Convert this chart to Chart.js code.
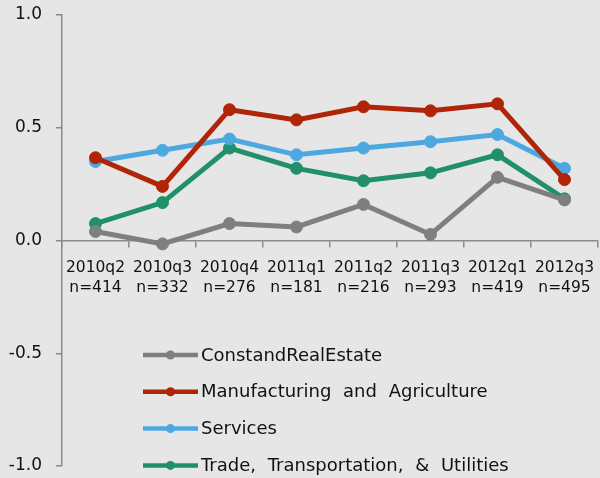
<!DOCTYPE html>
<html>
<head>
<meta charset="utf-8">
<script src="https://cdn.jsdelivr.net/npm/chart.js@4"></script>
<style>
  html, body { margin: 0; padding: 0; background: #e6e6e6; }
  #wrap { width: 600px; height: 478px; position: relative; }
</style>
</head>
<body>
<div id="wrap"><canvas id="chart"></canvas></div>
<script>
// quarters and sample sizes
const quarters = ['2010q2', '2010q3', '2010q4', '2011q1', '2011q2', '2011q3', '2012q1', '2012q3'];
const sampleSizes = ['n=414', 'n=332', 'n=276', 'n=181', 'n=216', 'n=293', 'n=419', 'n=495'];

const constRealEstate = [0.04, -0.015, 0.075, 0.06, 0.16, 0.027, 0.28, 0.18];
const manufacturing = [0.367, 0.24, 0.58, 0.535, 0.593, 0.575, 0.606, 0.27];
const services = [0.35, 0.40, 0.45, 0.38, 0.41, 0.438, 0.47, 0.32];
const tradeTransport = [0.075, 0.168, 0.41, 0.32, 0.265, 0.30, 0.38, 0.185];

const yTicks = [-1.0, -0.5, 0.0, 0.5, 1.0];

const labels = quarters.map((q, i) => [q, sampleSizes[i]]);

function series(label, data, color) {
    return {
        label: label,
        data: data,
        borderColor: color,
        backgroundColor: color,
        borderWidth: 5,
        pointRadius: 6,
        pointBorderWidth: 1,
        pointBackgroundColor: color,
        tension: 0
    };
}

// draws the stacked legend inside the plot area
const insideLegend = {
    id: 'insideLegend',
    afterDraw(chart) {
        const ctx = chart.ctx;
        const x0 = 143, x1 = 198, top = 355, step = 36.8;
        ctx.save();
        chart.data.datasets.forEach((ds, i) => {
            const y = top + i * step;
            ctx.strokeStyle = ds.borderColor;
            ctx.lineWidth = 4.5;
            ctx.beginPath();
            ctx.moveTo(x0, y);
            ctx.lineTo(x1, y);
            ctx.stroke();
            ctx.fillStyle = ds.borderColor;
            ctx.beginPath();
            ctx.arc((x0 + x1) / 2, y, 4.5, 0, Math.PI * 2);
            ctx.fill();
            ctx.fillStyle = '#111';
            ctx.font = '18px "DejaVu Sans"';
            ctx.wordSpacing = '6px';
            ctx.textBaseline = 'middle';
            ctx.fillText(ds.label, x1 + 3, y + 1);
        });
        ctx.restore();
    }
};

new Chart(document.getElementById('chart'), {
    type: 'line',
    data: {
        labels: labels,
        datasets: [
            series('ConstandRealEstate', constRealEstate, '#7f7f7f'),
            series('Manufacturing and Agriculture', manufacturing, '#b02407'),
            series('Services', services, '#4ea8e0'),
            series('Trade, Transportation, & Utilities', tradeTransport, '#21906a')
        ]
    },
    options: {
        responsive: true,
        maintainAspectRatio: false,
        animation: false,
        layout: { autoPadding: false, padding: { top: 15, right: 2, bottom: 12, left: 0 } },
        plugins: {
            legend: { display: false },
            tooltip: { enabled: false }
        },
        scales: {
            x: {
                position: { y: 0 },
                offset: true,
                afterFit: (axis) => { axis.paddingLeft = 0; axis.paddingRight = 0; axis.paddingTop = 0; axis.paddingBottom = 0; },
                grid: { display: true, drawOnChartArea: false, offset: true, color: '#8a8a8a', lineWidth: 1.5, tickLength: 6 },
                border: { color: '#8a8a8a', width: 1.5 },
                ticks: { color: '#111', font: { family: 'DejaVu Sans', size: 15.5, lineHeight: 1.3 }, padding: 11, maxRotation: 0, autoSkip: false }
            },
            y: {
                min: -1,
                max: 1,
                afterBuildTicks: (axis) => { axis.ticks = yTicks.map(v => ({ value: v })); },
                afterFit: (axis) => { axis.width = 62; axis.paddingTop = 0; axis.paddingBottom = 0; },
                grid: { display: true, drawOnChartArea: false, color: '#8a8a8a', lineWidth: 1.5, tickLength: 6 },
                border: { color: '#8a8a8a', width: 1.5 },
                ticks: { color: '#111', font: { family: 'DejaVu Sans', size: 17 }, padding: 14, callback: (v) => v.toFixed(1) }
            }
        }
    },
    plugins: [insideLegend]
});
</script>
</body>
</html>
